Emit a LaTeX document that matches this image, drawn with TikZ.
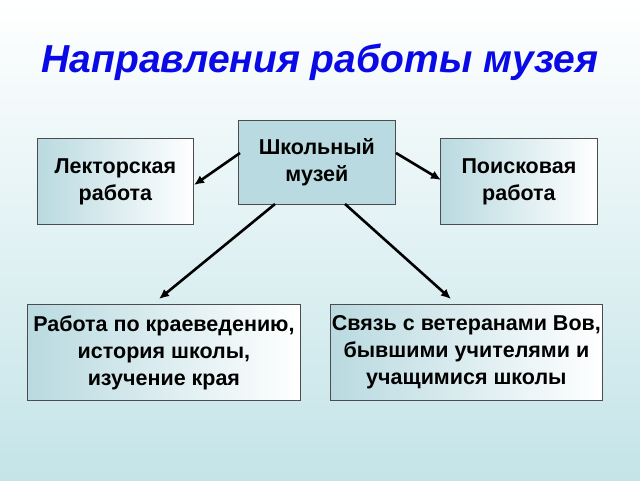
\documentclass[tikz,border=0pt]{standalone}
\usepackage{fontspec}
\setmainfont{Liberation Sans}
\begin{document}
\begin{tikzpicture}[x=1pt,y=-1pt,
  box/.style={draw=black!70,line width=0.8pt,align=center,font=\bfseries\fontsize{21.5}{27}\selectfont,inner sep=0pt,anchor=north west,left color=boxblue,right color=white},
  arr/.style={-{Latex[length=10pt,width=9pt]},line width=2.6pt}]
\usetikzlibrary{arrows.meta}
\definecolor{boxblue}{RGB}{185,218,224}
\definecolor{bgblue}{RGB}{196,228,232}
\definecolor{titleblue}{RGB}{10,10,230}
\shade[top color=white,bottom color=bgblue] (0,0) rectangle (640,480);
\useasboundingbox (0,0) rectangle (640,480);
\node (title) at (320,62) {\fontsize{39}{46}\selectfont\bfseries\itshape\color{titleblue}Направления работы музея};
\node[box,fill=boxblue,left color=boxblue,right color=boxblue,minimum width=157pt,minimum height=84pt] (c) at (238,120) {Школьный\\музей};
\node[box,minimum width=156pt,minimum height=86pt] (l) at (37,138) {Лекторская\\работа};
\node[box,minimum width=157pt,minimum height=86pt] (r) at (440,138) {Поисковая\\работа};
\node[box,minimum width=273pt,minimum height=96pt] (bl) at (27,304) {Работа по краеведению,\\история школы,\\изучение края};
\node[box,minimum width=272pt,minimum height=96pt] (br) at (330,304) {Связь с ветеранами Вов,\\бывшими учителями и\\учащимися школы};
\coordinate (a1) at (240,153); \coordinate (b1) at (194,185);
\coordinate (a2) at (396,153); \coordinate (b2) at (441,180);
\coordinate (a3) at (275,204); \coordinate (b3) at (159,299);
\coordinate (a4) at (345,204); \coordinate (b4) at (451,299);
\draw[arr] (a1) -- (b1);
\draw[arr] (a2) -- (b2);
\draw[arr] (a3) -- (b3);
\draw[arr] (a4) -- (b4);
\end{tikzpicture}
\end{document}
